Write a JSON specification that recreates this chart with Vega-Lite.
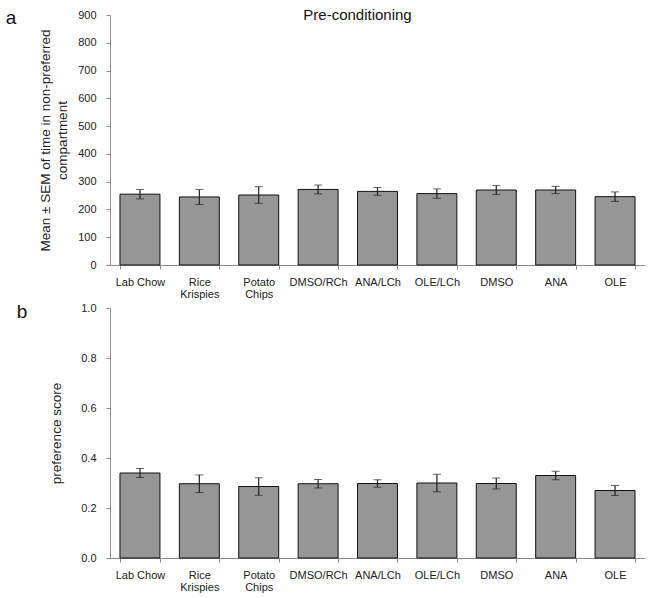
{
  "$schema": "https://vega.github.io/schema/vega-lite/v6.json",
  "padding": {"left": 5, "top": 8, "right": 5, "bottom": 5},
  "background": "white",
  "config": {
    "font": "Liberation Sans",
    "view": {"stroke": null},
    "axis": {
      "labelFont": "Liberation Sans",
      "titleFont": "Liberation Sans",
      "labelColor": "#222",
      "titleColor": "#222",
      "labelFontSize": 11,
      "titleFontSize": 13.5,
      "titleFontWeight": "normal",
      "domainColor": "#8c8c8c",
      "tickColor": "#8c8c8c",
      "tickSize": 4,
      "grid": false
    },
    "title": {"font": "Liberation Sans", "fontWeight": "normal", "color": "#111"},
    "concat": {"spacing": 3}
  },
  "datasets": {
    "d": [
      {"group": "Lab Chow", "time": 255, "time_sem": 17, "score": 0.340, "score_sem": 0.018},
      {"group": "Rice Krispies", "time": 245, "time_sem": 27, "score": 0.297, "score_sem": 0.035},
      {"group": "Potato Chips", "time": 252, "time_sem": 30, "score": 0.286, "score_sem": 0.035},
      {"group": "DMSO/RCh", "time": 272, "time_sem": 16, "score": 0.297, "score_sem": 0.017},
      {"group": "ANA/LCh", "time": 265, "time_sem": 14, "score": 0.298, "score_sem": 0.015},
      {"group": "OLE/LCh", "time": 257, "time_sem": 17, "score": 0.300, "score_sem": 0.035},
      {"group": "DMSO", "time": 270, "time_sem": 16, "score": 0.298, "score_sem": 0.022},
      {"group": "ANA", "time": 270, "time_sem": 13, "score": 0.330, "score_sem": 0.017},
      {"group": "OLE", "time": 246, "time_sem": 17, "score": 0.270, "score_sem": 0.020}
    ]
  },
  "vconcat": [
    {
      "title": {"text": "a", "anchor": "start", "frame": "bounds", "fontSize": 19, "offset": -20, "dx": -33},
      "vconcat": [
        {
          "width": 535,
          "height": 250,
          "data": {"name": "d"},
          "title": {"text": "Pre-conditioning", "fontSize": 15, "anchor": "middle", "frame": "group", "offset": -14, "dx": -20},
          "encoding": {
            "x": {
              "field": "group", "type": "nominal", "sort": null,
              "scale": {"paddingInner": 0.327, "paddingOuter": 0.168},
              "axis": {
                "title": null, "labelAngle": 0, "tickBand": "extent", "labelPadding": 7, "labelLineHeight": 12,
                "labelExpr": "datum.label == 'Rice Krispies' ? ['Rice', 'Krispies'] : datum.label == 'Potato Chips' ? ['Potato', 'Chips'] : datum.label"
              }
            },
            "y": {
              "field": "time", "type": "quantitative",
              "scale": {"domain": [0, 900]},
              "axis": {
                "title": ["Mean ± SEM of  time in non-preferred", "compartment"],
                "values": [0, 100, 200, 300, 400, 500, 600, 700, 800, 900],
                "labelPadding": 10, "titlePadding": 8, "titleLineHeight": 17
              }
            }
          },
          "layer": [
            {"mark": {"type": "bar", "fill": "#969696", "stroke": "#111", "strokeWidth": 1}},
            {
              "mark": {"type": "errorbar", "ticks": {"size": 8, "color": "#222"}, "rule": {"color": "#222", "strokeWidth": 1.2}},
              "encoding": {"yError": {"field": "time_sem"}}
            }
          ]
        }
      ]
    },
    {
      "title": {"text": "b", "anchor": "start", "frame": "bounds", "fontSize": 19, "offset": -20, "dx": -33},
      "vconcat": [
        {
          "width": 535,
          "height": 250,
          "data": {"name": "d"},
          "encoding": {
            "x": {
              "field": "group", "type": "nominal", "sort": null,
              "scale": {"paddingInner": 0.327, "paddingOuter": 0.168},
              "axis": {
                "title": null, "labelAngle": 0, "tickBand": "extent", "labelPadding": 7, "labelLineHeight": 12,
                "labelExpr": "datum.label == 'Rice Krispies' ? ['Rice', 'Krispies'] : datum.label == 'Potato Chips' ? ['Potato', 'Chips'] : datum.label"
              }
            },
            "y": {
              "field": "score", "type": "quantitative",
              "scale": {"domain": [0, 1]},
              "axis": {
                "title": "preference  score",
                "values": [0, 0.2, 0.4, 0.6, 0.8, 1.0],
                "format": ".1f",
                "labelPadding": 10, "titlePadding": 17
              }
            }
          },
          "layer": [
            {"mark": {"type": "bar", "fill": "#969696", "stroke": "#111", "strokeWidth": 1}},
            {
              "mark": {"type": "errorbar", "ticks": {"size": 8, "color": "#222"}, "rule": {"color": "#222", "strokeWidth": 1.2}},
              "encoding": {"yError": {"field": "score_sem"}}
            }
          ]
        }
      ]
    }
  ]
}
